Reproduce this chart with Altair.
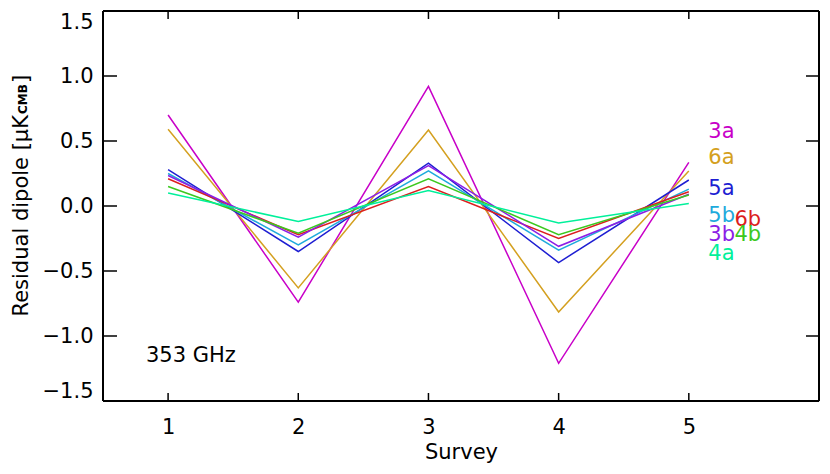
import altair as alt
import pandas as pd

# ---- data ----
surveys = [1, 2, 3, 4, 5]
series = ["3a", "6a", "5a", "5b", "6b", "3b", "4b", "4a"]
values = {
    "3a": [0.70, -0.74, 0.92, -1.21, 0.335],
    "6a": [0.59, -0.63, 0.585, -0.815, 0.27],
    "5a": [0.28, -0.35, 0.33, -0.435, 0.20],
    "5b": [0.25, -0.30, 0.27, -0.34, 0.13],
    "6b": [0.21, -0.22, 0.15, -0.25, 0.11],
    "3b": [0.235, -0.24, 0.31, -0.31, 0.09],
    "4b": [0.15, -0.21, 0.21, -0.22, 0.085],
    "4a": [0.10, -0.12, 0.12, -0.13, 0.02],
}
colors = ["#C800C8", "#D4A020", "#1E1ED2", "#1EAADC", "#DC1E1E", "#8C1EE6", "#3CC81E", "#00F09A"]

label_names = ["3a", "6a", "5a", "5b", "6b", "3b", "4b", "4a"]
label_x = [5.15, 5.15, 5.15, 5.15, 5.35, 5.15, 5.35, 5.15]
label_y = [0.566, 0.37, 0.128, -0.075, -0.105, -0.22, -0.22, -0.37]

x_ticks = [1, 2, 3, 4, 5]
y_ticks = [-1.5, -1.0, -0.5, 0.0, 0.5, 1.0, 1.5]

W, H = 716, 390
FONT = "DejaVu Sans"

rows = [{"series": s, "survey": surveys[i], "value": v}
        for s in series for i, v in enumerate(values[s])]
df = pd.DataFrame(rows)
labels_df = pd.DataFrame({"series": label_names, "x": label_x, "y": label_y})
xt = pd.DataFrame({"t": x_ticks})
yt = pd.DataFrame({"t": y_ticks})
frame_df = pd.DataFrame({"x0": [0.5], "x1": [6.0], "y0": [-1.5], "y1": [1.5]})

xscale = alt.Scale(domain=[0.5, 6], nice=False, zero=False)
yscale = alt.Scale(domain=[-1.5, 1.5], nice=False, zero=False)
cscale = alt.Scale(domain=series, range=colors)

xaxis = alt.Axis(values=x_ticks, format="d", title="Survey", tickSize=0, domain=False,
                 grid=False, labelFont=FONT, labelFontSize=21, labelPadding=15,
                 titleFont=FONT, titleFontSize=21, titleFontWeight="normal",
                 titlePadding=4, labelColor="black", titleColor="black")
yaxis = alt.Axis(values=y_ticks, format=".1f", title=None, tickSize=0, domain=False,
                 grid=False, labelFont=FONT, labelFontSize=21, labelPadding=10,
                 labelFlush=True, labelColor="black")

lines = alt.Chart(df).mark_line(strokeWidth=1.5).encode(
    x=alt.X("survey:Q", scale=xscale, axis=xaxis),
    y=alt.Y("value:Q", scale=yscale, axis=yaxis),
    color=alt.Color("series:N", scale=cscale, legend=None),
    detail="series:N",
)

# frame drawn through the scales (edges of the data domain)
edge = dict(color="black", strokeWidth=2)
f_left = alt.Chart(frame_df).mark_rule(**edge).encode(
    x=alt.X("x0:Q", scale=xscale), y=alt.Y("y0:Q", scale=yscale), y2="y1:Q")
f_right = alt.Chart(frame_df).mark_rule(**edge).encode(
    x=alt.X("x1:Q", scale=xscale), y=alt.Y("y0:Q", scale=yscale), y2="y1:Q")
f_bottom = alt.Chart(frame_df).mark_rule(**edge).encode(
    y=alt.Y("y0:Q", scale=yscale), x=alt.X("x0:Q", scale=xscale), x2="x1:Q")
f_top = alt.Chart(frame_df).mark_rule(**edge).encode(
    y=alt.Y("y1:Q", scale=yscale), x=alt.X("x0:Q", scale=xscale), x2="x1:Q")

# inward ticks
tick_left = alt.Chart(yt).mark_rule(color="black", strokeWidth=1.5).encode(
    y=alt.Y("t:Q", scale=yscale), x=alt.value(0), x2=alt.value(14))
tick_right = alt.Chart(yt).mark_rule(color="black", strokeWidth=1.5).encode(
    y=alt.Y("t:Q", scale=yscale), x=alt.value(W), x2=alt.value(W - 13))
tick_bottom = alt.Chart(xt).mark_rule(color="black", strokeWidth=1.5).encode(
    x=alt.X("t:Q", scale=xscale), y=alt.value(H), y2=alt.value(H - 8))
tick_top = alt.Chart(xt).mark_rule(color="black", strokeWidth=1.5).encode(
    x=alt.X("t:Q", scale=xscale), y=alt.value(0), y2=alt.value(8))

series_labels = alt.Chart(labels_df).mark_text(
    align="left", baseline="middle", font=FONT, fontSize=21).encode(
    x=alt.X("x:Q", scale=xscale), y=alt.Y("y:Q", scale=yscale),
    text="series:N", color=alt.Color("series:N", scale=cscale, legend=None))

freq_df = pd.DataFrame({"x": [0.83], "y": [-1.2], "txt": ["353 GHz"]})
freq = alt.Chart(freq_df).mark_text(
    align="left", baseline="alphabetic", font=FONT, fontSize=21, color="black").encode(
    x=alt.X("x:Q", scale=xscale), y=alt.Y("y:Q", scale=yscale), text="txt:N")

title_main = alt.Chart(pd.DataFrame({"t": ["Residual dipole [\u03bcK"]})).mark_text(
    align="right", baseline="alphabetic", angle=270, font=FONT, fontSize=21, color="black").encode(
    x=alt.value(-75), y=alt.value(104), text="t:N")
title_sub = alt.Chart(pd.DataFrame({"t": ["CMB"]})).mark_text(
    align="left", baseline="alphabetic", angle=270, font=FONT, fontSize=12,
    fontWeight="bold", color="black").encode(
    x=alt.value(-76), y=alt.value(103), text="t:N")
title_end = alt.Chart(pd.DataFrame({"t": ["]"]})).mark_text(
    align="left", baseline="alphabetic", angle=270, font=FONT, fontSize=21, color="black").encode(
    x=alt.value(-75), y=alt.value(72), text="t:N")

chart = alt.layer(
    lines, f_left, f_right, f_top, f_bottom,
    tick_left, tick_right, tick_bottom, tick_top,
    series_labels, freq, title_main, title_sub, title_end,
).properties(
    width=W, height=H,
    autosize=alt.AutoSizeParams(type="none"),
    padding={"left": 95, "top": 3, "right": 2, "bottom": 62},
).configure_view(
    strokeWidth=0
).configure(background="white")

chart.save("out.html", embed_options={"renderer": "svg", "actions": False})
